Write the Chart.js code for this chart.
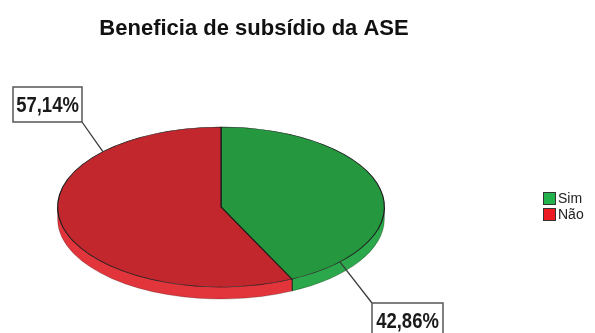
<!DOCTYPE html>
<html>
<head>
<meta charset="utf-8">
<script src="https://cdn.jsdelivr.net/npm/chart.js@4/dist/chart.umd.min.js"></script>
<style>
    html, body { margin: 0; padding: 0; background: #fff; }
    #wrap { width: 595px; height: 333px; }
</style>
</head>
<body>
<div id="wrap"><canvas id="pie" width="595" height="333"></canvas></div>
<script>
const chartTitle = 'Beneficia de subsídio da ASE';
const categories = ['Sim', 'Não'];
const percentages = [42.86, 57.14];

const topColors = ['#24973f', '#c2272d'];
const sideColors = ['#2ba84b', '#e2353b'];
const swatchColors = ['#22b14c', '#ed1c24'];

// flattened pie: vertical radius and rim depth in screen pixels
const RADIUS_Y = 80;
const CENTER_Y = 207;
const DEPTH = 12;

// callout boxes per slice: where the leader line meets the ellipse and the box
const callouts = [
    { at: 0.864, box: { x: 372, y: 303, w: 71, h: 36 }, corner: 'tl' },
    { at: 0.775, box: { x: 13, y: 87, w: 69, h: 35 }, corner: 'br' }
];

function formatPercent(v) {
    return v.toFixed(2).replace('.', ',') + '%';
}

function tiltGeometry(chart) {
    const arc = chart.getDatasetMeta(0).data[0];
    return { cx: arc.x, cy: arc.y, r: arc.outerRadius, k: RADIUS_Y / arc.outerRadius };
}

const tiltPlugin = {
    id: 'tilt',
    beforeDatasetsDraw(chart) {
        const ctx = chart.ctx;
        const g = tiltGeometry(chart);
        const d = DEPTH / g.k;

        ctx.save();
        ctx.translate(g.cx, CENTER_Y);
        ctx.scale(1, g.k);
        ctx.translate(-g.cx, -g.cy);

        // rim of the disc, only the front half is visible
        chart.getDatasetMeta(0).data.forEach((arc, i) => {
            const a1 = Math.max(arc.startAngle, 0);
            const a2 = Math.min(arc.endAngle, Math.PI);
            if (a1 >= a2) return;
            ctx.beginPath();
            ctx.arc(g.cx, g.cy + d, g.r, a1, a2);
            ctx.arc(g.cx, g.cy, g.r, a2, a1, true);
            ctx.closePath();
            ctx.fillStyle = sideColors[i];
            ctx.fill();
            ctx.lineWidth = 1;
            ctx.strokeStyle = 'rgba(40,20,20,0.35)';
            ctx.stroke();

            if (arc.endAngle > 0 && arc.endAngle < Math.PI) {
                const x = g.cx + g.r * Math.cos(arc.endAngle);
                const y = g.cy + g.r * Math.sin(arc.endAngle);
                ctx.beginPath();
                ctx.moveTo(x, y);
                ctx.lineTo(x, y + d);
                ctx.lineWidth = 1.5;
                ctx.strokeStyle = '#1a1a1a';
                ctx.stroke();
            }
        });
    },
    afterDatasetsDraw(chart) {
        chart.ctx.restore();
    },
    afterDraw(chart) {
        const ctx = chart.ctx;
        const g = tiltGeometry(chart);

        ctx.save();

        // title
        ctx.fillStyle = '#111';
        ctx.font = 'bold 22px "Liberation Sans", Arial, sans-serif';
        ctx.textAlign = 'center';
        ctx.textBaseline = 'alphabetic';
        ctx.fillText(chartTitle, 254, 35);

        // value callouts
        chart.getDatasetMeta(0).data.forEach((arc, i) => {
            const c = callouts[i];
            const a = arc.startAngle + c.at * (arc.endAngle - arc.startAngle);
            const px = g.cx + g.r * Math.cos(a);
            const py = CENTER_Y + RADIUS_Y * Math.sin(a);
            const b = c.box;
            const qx = c.corner === 'tl' ? b.x : b.x + b.w;
            const qy = c.corner === 'tl' ? b.y : b.y + b.h;

            ctx.beginPath();
            ctx.moveTo(px, py);
            ctx.lineTo(qx, qy);
            ctx.lineWidth = 1.3;
            ctx.strokeStyle = '#3a3a3a';
            ctx.stroke();

            ctx.fillStyle = '#fff';
            ctx.fillRect(b.x, b.y, b.w, b.h);
            ctx.lineWidth = 1.5;
            ctx.strokeStyle = '#555';
            ctx.strokeRect(b.x, b.y, b.w, b.h);

            // condensed look: squeeze the bold face horizontally
            ctx.save();
            ctx.translate(b.x + b.w / 2, b.y + b.h / 2 + 1);
            ctx.scale(0.84, 1);
            ctx.fillStyle = '#1a1a1a';
            ctx.font = 'bold 22px "Liberation Sans", Arial, sans-serif';
            ctx.textAlign = 'center';
            ctx.textBaseline = 'middle';
            ctx.fillText(formatPercent(percentages[i]), 0, 0);
            ctx.restore();
        });

        // legend
        ctx.font = '14px "Liberation Sans", Arial, sans-serif';
        ctx.textAlign = 'left';
        ctx.textBaseline = 'middle';
        categories.forEach((name, i) => {
            const y = 192 + i * 16;
            ctx.fillStyle = swatchColors[i];
            ctx.fillRect(543, y, 13, 13);
            ctx.lineWidth = 1;
            ctx.strokeStyle = '#333';
            ctx.strokeRect(543.5, y + 0.5, 12, 12);
            ctx.fillStyle = '#222';
            ctx.fillText(name, 558, y + 7);
        });

        ctx.restore();
    }
};

new Chart(document.getElementById('pie'), {
    type: 'pie',
    data: {
        labels: categories,
        datasets: [{
            data: percentages,
            backgroundColor: topColors,
            borderColor: '#1a1a1a',
            borderWidth: 1.2
        }]
    },
    options: {
        responsive: false,
        animation: false,
        layout: { padding: { left: 57, right: 210, top: 2, bottom: 3 } },
        plugins: {
            legend: { display: false },
            tooltip: { enabled: false }
        }
    },
    plugins: [tiltPlugin]
});
</script>
</body>
</html>
